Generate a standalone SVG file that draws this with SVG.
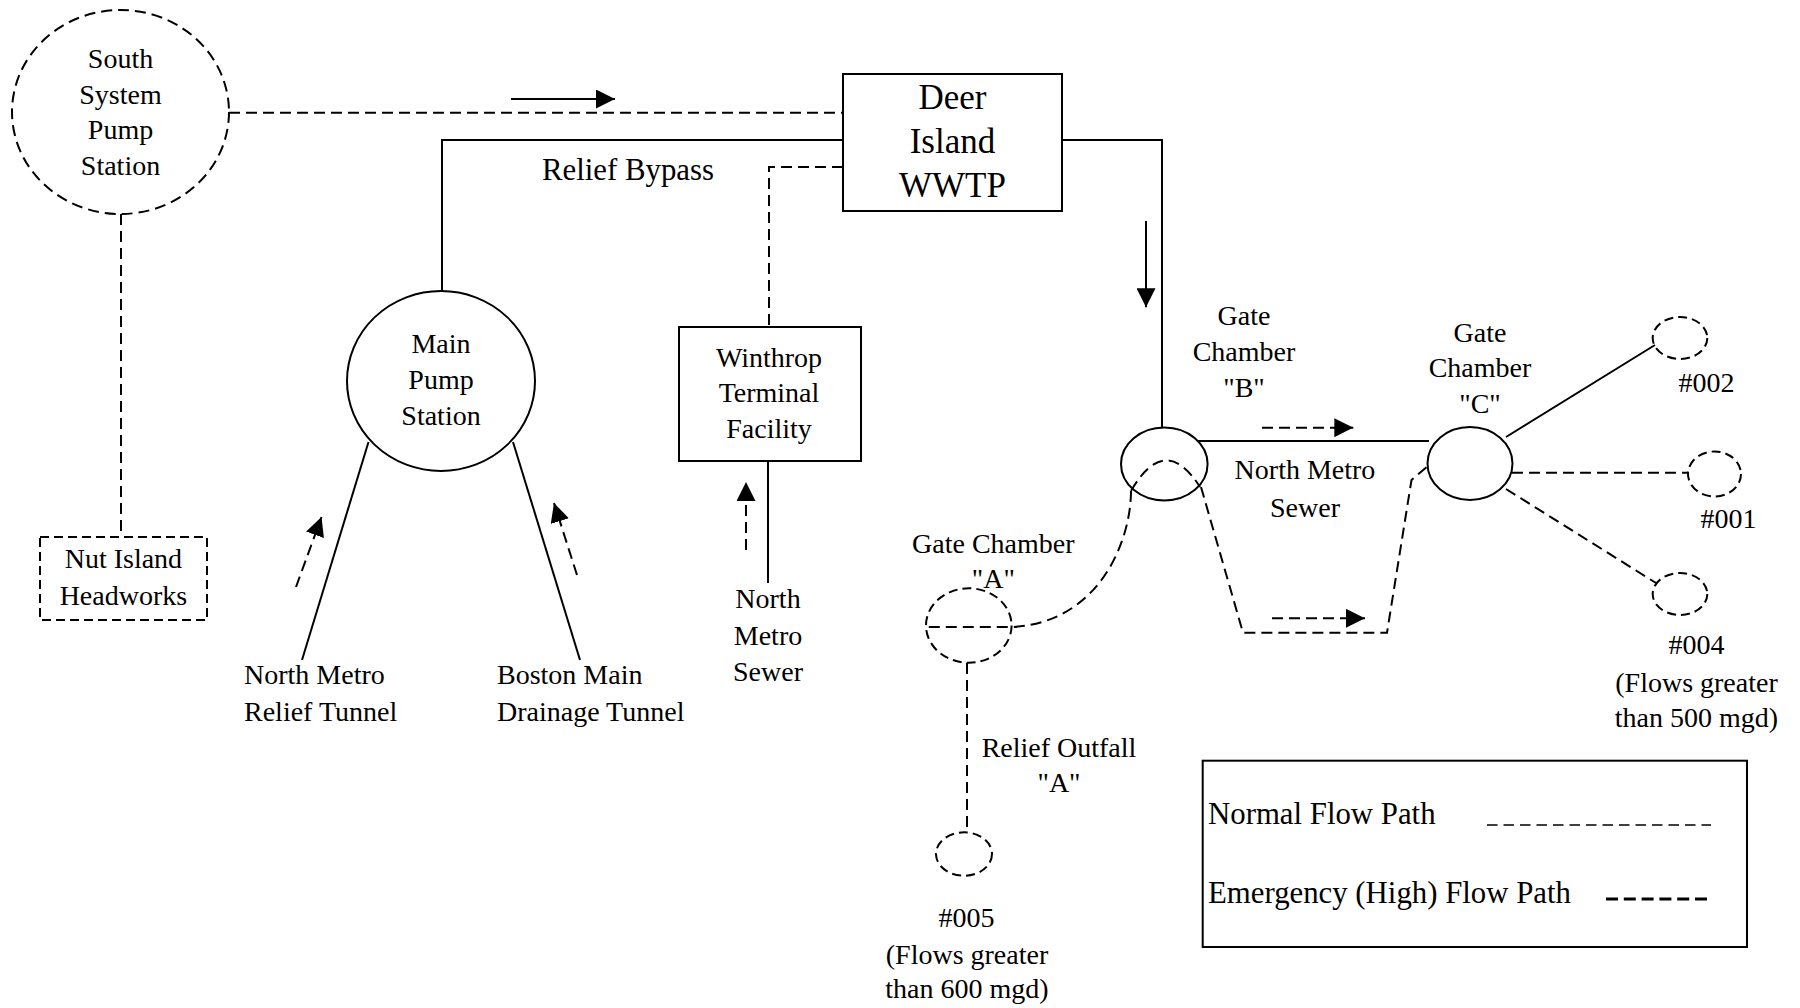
<svg xmlns="http://www.w3.org/2000/svg" width="1800" height="1008" viewBox="0 0 1800 1008">
<style>
.s{fill:none;stroke:#000;stroke-width:2}
.d{fill:none;stroke:#000;stroke-width:2;stroke-dasharray:11 6}
.ds{fill:none;stroke:#000;stroke-width:2;stroke-dasharray:9 5}
text{font-family:"Liberation Serif","Times New Roman",serif;font-size:28px;fill:#000;text-anchor:middle}
.l{text-anchor:start}
.big{font-size:35px}
.lg{font-size:30.8px}
</style>
<defs>
<marker id="ah" viewBox="0 0 19 19" refX="19" refY="9.5" markerWidth="19" markerHeight="19" markerUnits="userSpaceOnUse" orient="auto"><path d="M0,0L19,9.5L0,19z" fill="#000"/></marker>
</defs>
<rect width="1800" height="1008" fill="#fff"/>
<g id="connectors">
<path class="d" d="M229,112.7H843"/>
<path class="s" d="M511,99H615" marker-end="url(#ah)"/>
<path class="s" d="M843,140H442V291"/>
<path class="d" d="M843,167H769V327"/>
<path class="s" d="M1062,140H1162V428"/>
<path class="s" d="M1146,221V307.3" marker-end="url(#ah)"/>
<path class="d" d="M121,214V537"/>
<path class="s" d="M368.5,442L302,660"/>
<path class="s" d="M513,442L580,660"/>
<path class="d" d="M296,587L321.5,517" marker-end="url(#ah)"/>
<path class="d" d="M577,575L554,503" marker-end="url(#ah)"/>
<path class="s" d="M768,461V583"/>
<path class="d" d="M746,550V482" marker-end="url(#ah)"/>
<path class="s" d="M1198,441H1429"/>
<path class="d" d="M1262,427.7H1353.3" marker-end="url(#ah)"/>
<path class="d" d="M1272,618.3H1365" marker-end="url(#ah)"/>
<path class="d" d="M1131,491Q1165,432 1200,487"/>
<path class="d" d="M1131,491C1131,540 1100,622 1013,627L927,627"/>
<path class="d" d="M1201,487L1243,632.7H1387L1411.5,480L1428,466"/>
<path class="s" d="M1506,437L1655,345"/>
<path class="d" d="M1512,472.7H1688"/>
<path class="d" d="M1506,489L1656,583"/>
<path class="d" d="M967,663V833"/>
</g>
<g id="south-system-pump-station">
<ellipse class="d" cx="120.5" cy="112" rx="108.5" ry="102"/>
<text x="120.5" y="68">South</text>
<text x="120.5" y="103.5">System</text>
<text x="120.5" y="139">Pump</text>
<text x="120.5" y="175">Station</text>
</g>
<g id="deer-island-wwtp">
<rect class="s" x="843" y="74" width="219" height="137"/>
<text class="big" x="952.5" y="109.3">Deer</text>
<text class="big" x="952.5" y="153.3">Island</text>
<text class="big" x="952.5" y="197.3">WWTP</text>
</g>
<g id="relief-bypass-label"><text class="lg" x="628" y="180">Relief Bypass</text></g>
<g id="main-pump-station">
<ellipse class="s" cx="441" cy="381" rx="94" ry="90"/>
<text x="441" y="353.3">Main</text>
<text x="441" y="389.3">Pump</text>
<text x="441" y="425">Station</text>
</g>
<g id="winthrop-terminal-facility">
<rect class="s" x="679" y="327" width="182" height="134"/>
<text x="769" y="366.7">Winthrop</text>
<text x="769" y="402.3">Terminal</text>
<text x="769" y="438.3">Facility</text>
</g>
<g id="nut-island-headworks">
<rect class="ds" x="40" y="537" width="167" height="83"/>
<text x="123.4" y="568.3">Nut Island</text>
<text x="123.4" y="605">Headworks</text>
</g>
<g id="north-metro-relief-tunnel">
<text class="l" x="244" y="684">North Metro</text>
<text class="l" x="244" y="720.7">Relief Tunnel</text>
</g>
<g id="boston-main-drainage-tunnel">
<text class="l" x="497" y="684">Boston Main</text>
<text class="l" x="497" y="720.7">Drainage Tunnel</text>
</g>
<g id="north-metro-sewer-winthrop">
<text x="768" y="608.3">North</text>
<text x="768" y="645">Metro</text>
<text x="768" y="680.7">Sewer</text>
</g>
<g id="gate-chamber-b">
<ellipse class="s" cx="1164.3" cy="464" rx="43.3" ry="36.5"/>
<text x="1244" y="325">Gate</text>
<text x="1244" y="360.5">Chamber</text>
<text x="1244" y="396.7">"B"</text>
</g>
<g id="north-metro-sewer">
<text x="1305" y="479.3">North Metro</text>
<text x="1305" y="516.7">Sewer</text>
</g>
<g id="gate-chamber-c">
<ellipse class="s" cx="1470" cy="463.5" rx="42.5" ry="36.5"/>
<text x="1480" y="341.7">Gate</text>
<text x="1480" y="377.3">Chamber</text>
<text x="1480" y="413.3">"C"</text>
</g>
<g id="gate-chamber-a">
<ellipse class="ds" cx="968.8" cy="625.5" rx="42.8" ry="37.2"/>
<text x="993.3" y="553.3">Gate Chamber</text>
<text x="993.3" y="588.3">"A"</text>
</g>
<g id="outfall-002">
<ellipse class="ds" cx="1680" cy="338" rx="27.3" ry="21"/>
<text x="1706.5" y="391.7">#002</text>
</g>
<g id="outfall-001">
<ellipse class="ds" cx="1714.5" cy="474" rx="26.5" ry="22.5"/>
<text x="1728.5" y="528.3">#001</text>
</g>
<g id="outfall-004">
<ellipse class="ds" cx="1680" cy="594" rx="27.3" ry="21"/>
<text x="1696.5" y="654">#004</text>
<text x="1696.5" y="691.7">(Flows greater</text>
<text x="1696.5" y="726.7">than 500 mgd)</text>
</g>
<g id="relief-outfall-a-label">
<text x="1059" y="756.7">Relief Outfall</text>
<text x="1059" y="791.7">"A"</text>
</g>
<g id="outfall-005">
<ellipse class="ds" cx="964" cy="854" rx="28" ry="21.7"/>
<text x="966.4" y="926.7">#005</text>
<text x="967" y="964">(Flows greater</text>
<text x="967" y="998.3">than 600 mgd)</text>
</g>
<g id="legend">
<rect class="s" x="1202.7" y="760.7" width="544.3" height="186.3"/>
<text class="l lg" x="1208" y="824">Normal Flow Path</text>
<path fill="none" stroke="#000" stroke-width="1.6" stroke-dasharray="10.5 6" d="M1487,825H1711"/>
<text class="l lg" x="1208" y="903">Emergency (High) Flow Path</text>
<path fill="none" stroke="#000" stroke-width="3" stroke-dasharray="12 5.8" d="M1606,899H1708"/>
</g>
</svg>
